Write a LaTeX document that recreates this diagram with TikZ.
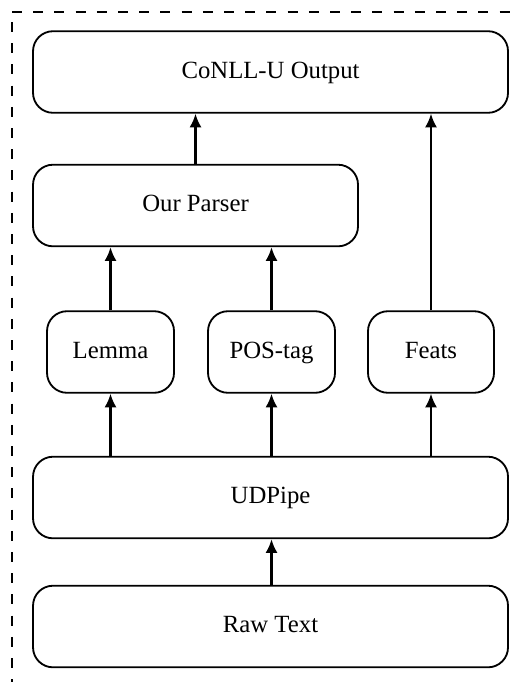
\documentclass[tikz,border=0pt]{standalone}
\usepackage{fontspec}
\setmainfont{Liberation Serif}
\usetikzlibrary{arrows.meta}

\tikzset{
  stage/.style = {draw, line width=1.3pt, rounded corners=0.5cm, minimum height=2.04cm,
                  inner sep=0pt, text height=0.96em, text depth=0.1em,
                  font=\fontsize{17.6}{20}\selectfont},
  flow/.style = {-{Latex[length=0.34cm,width=0.3cm]}, line width=1.5pt},
  frame/.style = {line width=0.9pt, dash pattern=on 0.25cm off 0.28cm},
}

\begin{document}
\begin{tikzpicture}
    \useasboundingbox (0, 0) rectangle (12.9, -17.05);
    \begin{scope}
      \clip (0, 0) rectangle (12.9, -17.05);
      \draw [frame] (0.3, -0.3) -- (13.5, -0.3);
      \draw [frame] (0.3, -0.55) -- (0.3, -18);
    \end{scope}

    \node[stage, minimum width=11.875cm] (output) at (6.763, -1.8) {CoNLL-U Output};
    \node[stage, minimum width=8.125cm] (parser) at (4.888, -5.138) {Our Parser};
    \node[stage, minimum width=3.175cm] (lemma) at (2.763, -8.8) {Lemma};
    \node[stage, minimum width=3.175cm] (postag) at (6.788, -8.8) {POS-tag};
    \node[stage, minimum width=3.15cm] (feats) at (10.775, -8.8) {Feats};
    \node[stage, minimum width=11.875cm] (udpipe) at (6.763, -12.438) {UDPipe};
    \node[stage, minimum width=11.875cm] (raw) at (6.763, -15.663) {Raw Text};

    \draw [flow] (raw.north -| postag) -- (udpipe.south -| postag);
    \draw [flow] (udpipe.north -| lemma) -- (lemma.south);
    \draw [flow] (udpipe.north -| postag) -- (postag.south);
    \draw [flow] (udpipe.north -| feats) -- (feats.south);
    \draw [flow] (lemma.north) -- (parser.south -| lemma);
    \draw [flow] (postag.north) -- (parser.south -| postag);
    \draw [flow] (parser.north) -- (output.south -| parser);
    \draw [flow] (feats.north) -- (output.south -| feats);
\end{tikzpicture}
\end{document}
